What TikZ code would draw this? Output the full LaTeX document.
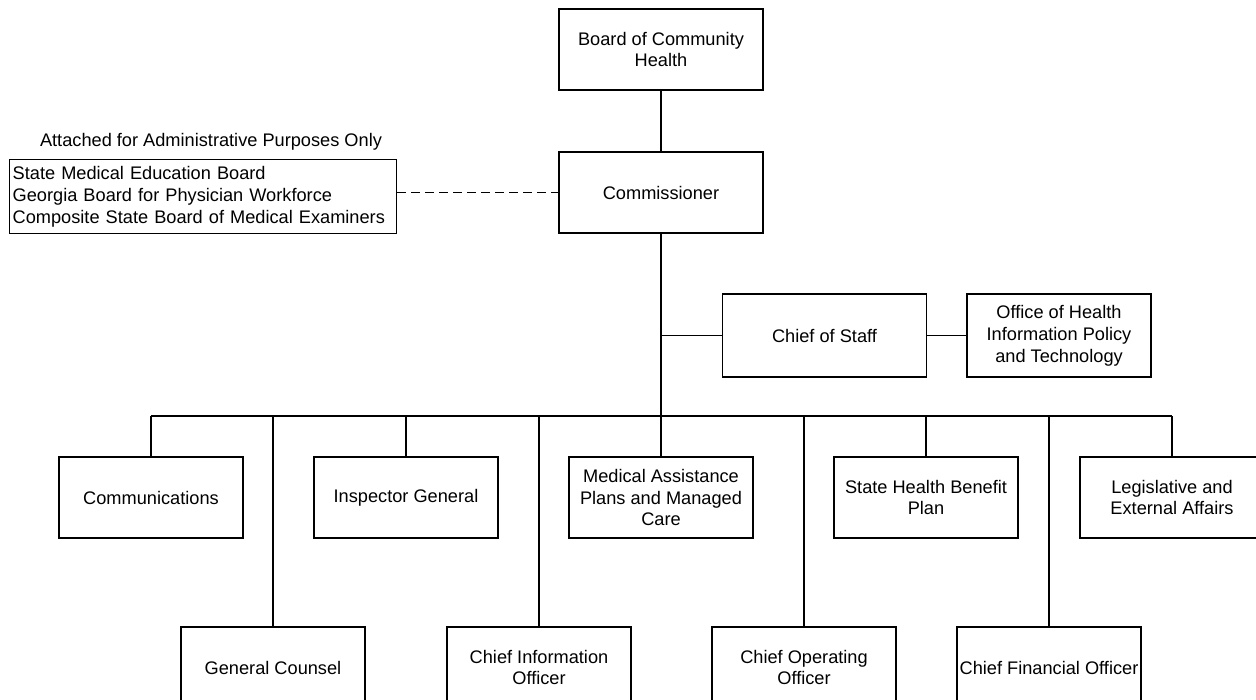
\documentclass[tikz,border=0pt]{standalone}
\usepackage{fontspec}
\setmainfont{Liberation Sans}
\usetikzlibrary{positioning}

\tikzset{
  unit/.style={draw, line width=1.4pt, inner sep=2pt, align=center,
    minimum width=184pt, minimum height=81pt},
  wideunit/.style={unit, minimum width=204pt},
  link/.style={line width=1.4pt},
}

\begin{document}
\begin{tikzpicture}[x=1pt,y=-1pt,font=\fontsize{18.2}{21.8}\selectfont]
    \clip (0,0) rectangle (1256,700);

    \node [wideunit] (board) at (661,49.5) {Board of Community\\Health};
    \node [wideunit] (comm)  at (661,192.5) {Commissioner};

    \node [draw, line width=1.4pt, anchor=north west, inner sep=3pt,
           minimum width=387pt, minimum height=74pt, text width=381pt, align=left]
           (attached) at (9,159)
           {State Medical Education Board\\Georgia Board for Physician Workforce\\Composite State Board of Medical Examiners};
    \node (attachlabel) at (211,142) {Attached for Administrative Purposes Only};

    \node [wideunit, minimum height=83pt] (staff)  at (824.5,335.5) {Chief of Staff};
    \node [unit, minimum height=83pt]     (office) at (1059,335.5) {Office of Health\\Information Policy\\and Technology};

    \coordinate (bus) at (0,416);

    \node [unit] (comms)   at (151,497.5)  {Communications};
    \node [unit] (inspect) at (406,497.5)  {Inspector General};
    \node [unit] (medical) at (661,497.5)  {Medical Assistance\\Plans and Managed\\Care};
    \node [unit] (shbp)    at (926,497.5)  {State Health Benefit\\Plan};
    \node [unit] (legis)   at (1172,497.5) {Legislative and\\External Affairs};

    \node [unit] (counsel) at (273,667.5)  {General Counsel};
    \node [unit] (cio)     at (539,667.5)  {Chief Information\\Officer};
    \node [unit] (coo)     at (804,667.5)  {Chief Operating\\Officer};
    \node [unit] (cfo)     at (1049,667.5) {Chief Financial Officer};

    \draw [link] (board) -- (comm);
    \draw [link, line width=1.6pt, dash pattern=on 9pt off 5pt] (comm.west -| attached.east) -- (comm.west);
    \draw [link] (comm.south) -- (comm.south |- bus);
    \draw [link] (staff.west) -- (staff.west -| comm.south);
    \draw [link] (staff) -- (office);
    \draw [link] (comms.north |- bus) -- (legis.north |- bus);

    \draw [link] (comms.north)   -- (comms.north |- bus);
    \draw [link] (inspect.north) -- (inspect.north |- bus);
    \draw [link] (medical.north) -- (medical.north |- bus);
    \draw [link] (shbp.north)    -- (shbp.north |- bus);
    \draw [link] (legis.north)   -- (legis.north |- bus);
    \draw [link] (counsel.north) -- (counsel.north |- bus);
    \draw [link] (cio.north)     -- (cio.north |- bus);
    \draw [link] (coo.north)     -- (coo.north |- bus);
    \draw [link] (cfo.north)     -- (cfo.north |- bus);
\end{tikzpicture}
\end{document}
